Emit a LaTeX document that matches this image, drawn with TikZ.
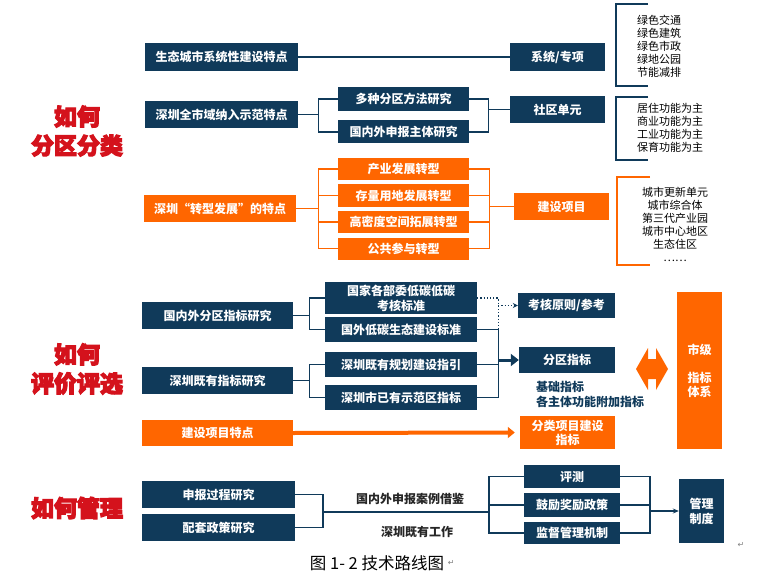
\documentclass[tikz,border=0pt]{standalone}
\usepackage{fontspec}
\setmainfont{Noto Sans CJK SC}
\newfontfamily\symfont{DejaVu Sans}
\usetikzlibrary{arrows.meta}
\usetikzlibrary{positioning}
\newcommand{\heavy}[1]{\special{pdf:literal direct 2 Tr 1.1 w}#1\special{pdf:literal direct 0 Tr 0.4 w}}
\tikzset{nbox/.style = {fill=mnavy, text=white, inner sep=0, align=center, font=\bfseries\fontsize{12}{15}\selectfont}}
\tikzset{obox/.style = {nbox, fill=morange}}
\tikzset{sz/.style 2 args = {minimum width=#1, minimum height=#2}}
\tikzset{nline/.style = {draw=mnavy, line width=1.2}}
\tikzset{oline/.style = {draw=morange, line width=1.2}}
\tikzset{ttl/.style = {text=mred, align=center, font=\bfseries\fontsize{23}{29}\selectfont}}
\tikzset{item/.style = {inner sep=0, text height=8.5pt, text depth=2pt, font=\fontsize{11}{13}\selectfont}}
\tikzset{note/.style = {inner sep=0, align=left, text=mnavy, font=\bfseries\fontsize{12}{15}\selectfont}}
\tikzset{pmark/.style = {inner sep=0, text=gray, font=\symfont\fontsize{8}{8}\selectfont}}
\definecolor{mnavy}{RGB}{16, 58, 90}
\definecolor{morange}{RGB}{255, 102, 0}
\definecolor{mred}{RGB}{212, 18, 28}
\begin{document}
\begin{tikzpicture}[x=1pt, y=-1pt]
    \useasboundingbox (0,0) rectangle (757,588);

    \node [ttl] (t1) at (77,131) {\heavy{如何}\\\heavy{分区分类}};
    \node [nbox, sz={153}{28}] (a1) at (221.5,57) {生态城市系统性建设特点};
    \node [nbox, sz={95}{28}] (s1) at (557.5,57) {系统/专项};
    \draw [nline] (a1.east) -- (s1.west);

    \node [nbox, sz={153}{27}] (a2) at (221.5,114.5) {深圳全市域纳入示范特点};
    \node [nbox, sz={131}{24}] (b1) at (403.5,99) {多种分区方法研究};
    \node [nbox, sz={131}{23}] (b2) at (403.5,132) {国内外申报主体研究};
    \node [nbox, sz={95}{27}] (s2) at (557.5,109.5) {社区单元};
    \draw [nline] (a2.east) -- ++(20,0) coordinate (j2);
    \draw [nline] (b1.west) -| (j2) |- (b2.west);
    \draw [nline] (s2.west) -- ++(-21,0) coordinate (k2);
    \draw [nline] (b1.east) -| (k2) |- (b2.east);

    \node [obox, sz={152}{27}] (a3) at (220,208.5) {深圳“转型发展”的特点};
    \foreach \t [count=\i] in {产业发展转型,存量用地发展转型,高密度空间拓展转型,公共参与转型} {
      \node [obox, sz={131}{22}] (c\i) at (403.5,142.5+26.5*\i) {\t};
    }
    \node [obox, sz={95}{27}] (s3) at (561.5,206.5) {建设项目};
    \draw [oline] (a3.east) -- ++(22,0) coordinate (j3);
    \draw [oline] (j3 |- c1.west) -- (j3 |- c4.west);
    \draw [oline] (s3.west) -- ++(-24,0) coordinate (k3);
    \draw [oline] (k3 |- c1.east) -- (k3 |- c4.east);
    \foreach \i in {1,...,4} {
      \draw [oline] (j3 |- c\i.west) -- (c\i.west);
      \draw [oline] (c\i.east) -- (k3 |- c\i.east);
    }

    \draw [nline] (648,4) -- (616,4) -- (616,86) -- (648,86);
    \foreach \t [count=\i from 0] in {绿色交通,绿色建筑,绿色市政,绿地公园,节能减排} {
      \node [item, anchor=west] at (637,21+13*\i) {\t};
    }
    \draw [nline] (648,97) -- (616,97) -- (616,160) -- (648,160);
    \foreach \t [count=\i from 0] in {居住功能为主,商业功能为主,工业功能为主,保育功能为主} {
      \node [item, anchor=west] at (637,109+13*\i) {\t};
    }
    \draw [oline] (650,177) -- (617,177) -- (617,265) -- (650,265);
    \foreach \t [count=\i from 0] in {城市更新单元,城市综合体,第三代产业园,城市中心地区,生态住区,……} {
      \node [item] at (675,193+13*\i) {\t};
    }

    \node [ttl] (t2) at (77,369) {\heavy{如何}\\\heavy{评价评选}};
    \node [nbox, sz={151}{27}] (d1) at (217.5,315.5) {国内外分区指标研究};
    \node [nbox, sz={151}{27}] (d2) at (217.5,380.5) {深圳既有指标研究};
    \node [obox, sz={151}{26}] (d3) at (217.5,433) {建设项目特点};
    \node [nbox, sz={152}{32}] (e1) at (401,298) {国家各部委低碳低碳\\考核标准};
    \node [nbox, sz={152}{25}] (e2) at (401,329.5) {国外低碳生态建设标准};
    \node [nbox, sz={152}{25}] (e3) at (401,364.5) {深圳既有规划建设指引};
    \node [nbox, sz={152}{25}] (e4) at (401,397.5) {深圳市已有示范区指标};
    \draw [nline] (d1.east) -- ++(16,0) coordinate (j4);
    \draw [nline] (e1.west) -| (j4) |- (e2.west);
    \draw [nline] (d2.east) -- ++(16,0) coordinate (j5);
    \draw [nline] (e3.west) -| (j5) |- (e4.west);

    \node [nbox, sz={97}{25}] (k1) at (566.5,305.5) {考核原则/参考};
    \node [nbox, sz={96}{26}] (k2) at (567,360) {分区指标};
    \node [obox, sz={95}{33}, font=\bfseries\fontsize{12}{14}\selectfont] (k3) at (567.5,432.5) {分类项目建设\\指标};
    \node [note, anchor=west] (n1) at (536,394.5) {基础指标\\各主体功能附加指标};
    \draw [nline] (e2.east) -- ++(21,0) coordinate (m1) -- (m1 |- e4.east) -- (e4.east);
    \draw [nline] (e3.east) -- (m1 |- e3.east);
    \draw [nline, dotted] (e1.east) -| (m1);
    \draw [nline, dotted, -{Stealth[length=5pt, width=5pt]}] (m1 |- k1.west) -- (k1.west);
    \draw [draw=mnavy, line width=3, -{Triangle[length=8pt, width=12pt]}] (m1 |- k2.west) -- (k2.west);
    \draw [draw=morange, line width=4, shorten >=5pt, -{Triangle[length=7pt, width=11pt]}] (d3.east) -- (k3.west);

    \node [obox, sz={45}{157}, font=\bfseries\fontsize{12}{14}\selectfont] (zb) at (699.5,370.5) {市级\\[14pt]指标\\体系};
    \fill [morange] (636,369) -- (648,348) -- (648,359) -- (656,359) -- (656,348) -- (668,369)
      -- (656,390) -- (656,379) -- (648,379) -- (648,390) -- cycle;

    \node [ttl] (t3) at (77,508) {\heavy{如何管理}};
    \node [nbox, sz={153}{27}] (f1) at (218.5,494.5) {申报过程研究};
    \node [nbox, sz={153}{27}] (f2) at (218.5,527.5) {配套政策研究};
    \node [nbox, sz={96}{23}] (g1) at (572,476.5) {评测};
    \node [nbox, sz={96}{24}] (g2) at (572,505) {鼓励奖励政策};
    \node [nbox, sz={96}{22}] (g3) at (572,533) {监督管理机制};
    \node [nbox, sz={45}{64}] (zz) at (701.5,511) {管理\\制度};
    \coordinate (j6) at (323,512);
    \coordinate (k6) at (489,512);
    \coordinate (m6) at (650,511);
    \draw [nline] (f1.east) -| (j6) |- (f2.east);
    \draw [nline] (j6) -- (k6);
    \draw [nline] (g1.west) -| (k6) |- (g3.west);
    \draw [nline] (k6 |- g2.west) -- (g2.west);
    \draw [nline] (g1.east) -| (m6) |- (g3.east);
    \draw [nline] (g2.east) -- (m6 |- g2.east);
    \draw [nline, -{Stealth[length=6pt, width=5pt]}] (m6) -- (zz.west);
    \node [note, text=black!85] (n2) at (410,499) {国内外申报案例借鉴};
    \node [note, text=black!85] (n3) at (417,532) {深圳既有工作};

    \node [pmark] (p1) at (741,545) {↵};
    \node [font=\fontsize{16.5}{19}\selectfont] (cap) at (377,563) {图 1- 2 技术路线图};
    \node [pmark, anchor=west] (p2) at (cap.east) {↵};
\end{tikzpicture}
\end{document}
